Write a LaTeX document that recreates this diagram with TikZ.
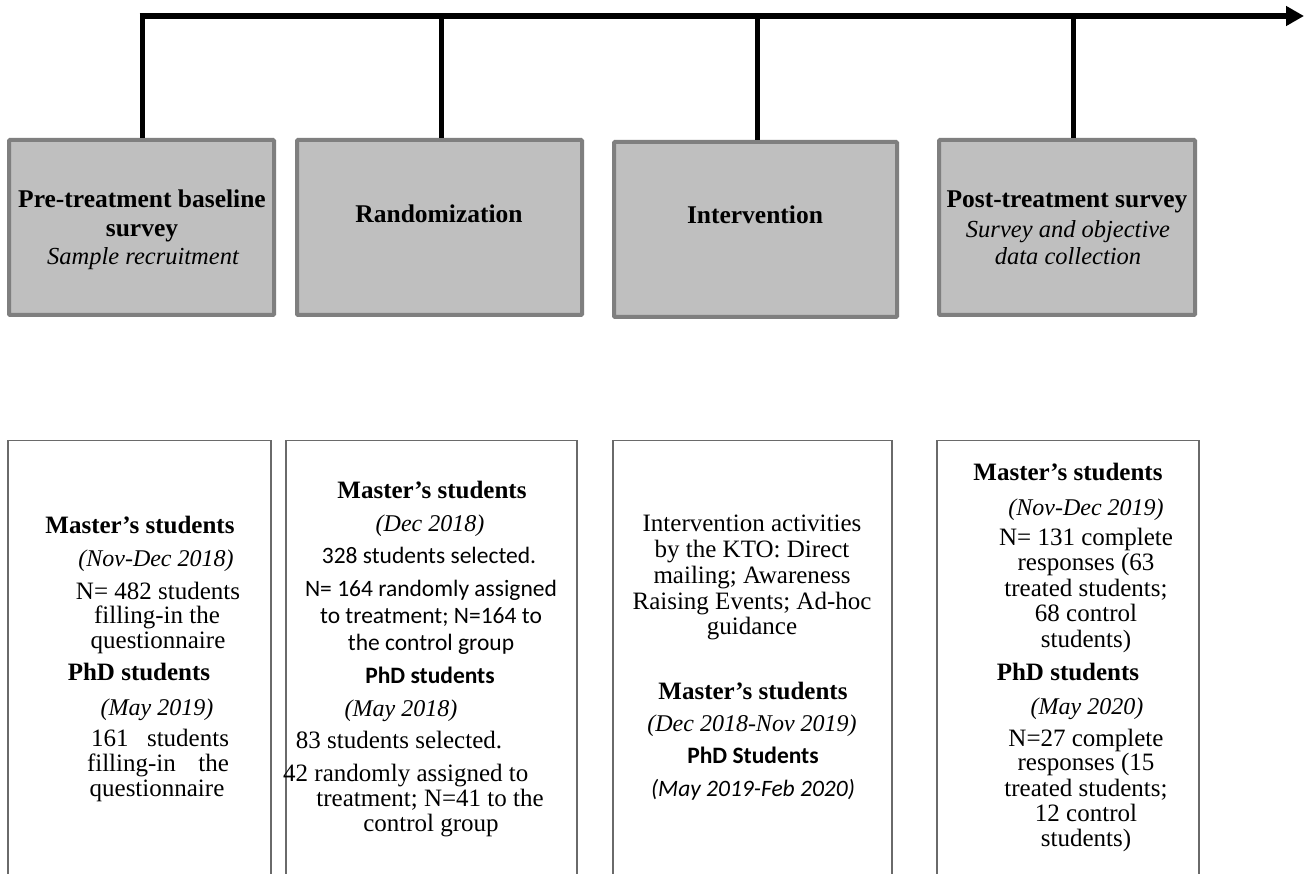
\documentclass[tikz,border=0pt]{standalone}
\usepackage{fontspec}
\setmainfont{Liberation Serif}
\newfontfamily\calibri{Carlito}
\usetikzlibrary{arrows.meta}
\definecolor{boxfill}{HTML}{BFBFBF}
\definecolor{boxline}{HTML}{7F7F7F}
\definecolor{thinline}{HTML}{6A6A6A}
\tikzset{
  topbox/.style={draw=boxline, line width=4pt, fill=boxfill, rounded corners=1pt, inner sep=0pt},
  lowbox/.style={draw=thinline, line width=1.4pt, fill=none, inner sep=0pt},
  tick/.style={line width=5pt, black},
  timeline/.style={line width=6pt, black, -{Triangle[length=18pt,width=19pt]}},
  tx/.style={anchor=base, inner sep=0pt, font=\fontsize{25}{26}\selectfont},
  txb/.style={anchor=base, inner sep=0pt, font=\fontsize{25}{26}\selectfont\bfseries},
  txi/.style={anchor=base, inner sep=0pt, font=\fontsize{24}{26}\selectfont\itshape},
  hb/.style={anchor=base, inner sep=0pt, font=\fontsize{25.5}{26}\selectfont\bfseries},
  hi/.style={anchor=base, inner sep=0pt, font=\fontsize{24.5}{26}\selectfont\itshape},
  cs/.style={anchor=base, inner sep=0pt, font=\fontsize{23.5}{26}\selectfont\calibri},
  csb/.style={anchor=base, inner sep=0pt, font=\fontsize{23.5}{26}\selectfont\calibri\bfseries},
  csi/.style={anchor=base, inner sep=0pt, font=\fontsize{23.5}{26}\selectfont\calibri\itshape},
}
\begin{document}
\begin{tikzpicture}[x=1pt,y=-1pt]
\useasboundingbox (0,0) rectangle (1307,874);
\fill[white] (0,0) rectangle (1307,874);

% top boxes
\node[topbox, minimum width=265pt, minimum height=175pt] (box1) at (141.5,227.5) {};
\node[topbox, minimum width=285pt, minimum height=175pt] (box2) at (439.5,227.5) {};
\node[topbox, minimum width=283pt, minimum height=175pt] (box3) at (755.5,229.5) {};
\node[topbox, minimum width=256pt, minimum height=175pt] (box4) at (1067,227.5) {};

% timeline
\coordinate (tl0) at (139.5,16);
\coordinate (tl1) at (1304,16);
\coordinate (t1) at (142,16);
\coordinate (t2) at (441,16);
\coordinate (t3) at (757,16);
\coordinate (t4) at (1073,16);
\draw[tick] (t1) -- (t1 |- box1.north);
\draw[tick] (t2) -- (t2 |- box2.north);
\draw[tick] (t3) -- (t3 |- box3.north);
\draw[tick] (t4) -- (t4 |- box4.north);
\draw[timeline] (tl0) -- (tl1);

% top box texts
\node[hb] (h1a) at (142,208) {Pre-treatment baseline};
\node[hb] (h1b) at (142,237) {survey};
\node[hi] (h1c) at (143,265) {Sample recruitment};
\node[hb] (h2) at (439,223) {Randomization};
\node[hb] (h3) at (755,224) {Intervention};
\node[hb] (h4a) at (1067,208) {Post-treatment survey};
\node[hi] (h4b) at (1068,238) {Survey and objective};
\node[hi] (h4c) at (1068,265) {data collection};

% bottom boxes
\node[lowbox, minimum width=263pt, minimum height=470pt, anchor=north] (low1) at (139.5,440) {};
\node[lowbox, minimum width=291pt, minimum height=470pt, anchor=north] (low2) at (431.5,440) {};
\node[lowbox, minimum width=279pt, minimum height=470pt, anchor=north] (low3) at (752.5,440) {};
\node[lowbox, minimum width=262pt, minimum height=470pt, anchor=north] (low4) at (1068,440) {};

% box 1 text
\node[txb] (a1) at (140,533) {Master’s students};
\node[txi] (a2) at (156,566) {(Nov-Dec 2018)};
\node[tx]  (a3) at (158,599) {N= 482 students};
\node[tx]  (a4) at (157,623) {filling-in the};
\node[tx]  (a5) at (158,648) {questionnaire};
\node[txb] (a6) at (139,680) {PhD students};
\node[txi] (a7) at (157,715) {(May 2019)};
\node[tx]  (a8) at (160,746) {\makebox[138pt][s]{161 \ students}};
\node[tx]  (a9) at (158,771) {\makebox[142pt][s]{filling-in the}};
\node[tx]  (a10) at (157,796) {questionnaire};

% box 2 text
\node[txb] (c1) at (432,498) {Master’s students};
\node[txi] (c2) at (430,531) {(Dec 2018)};
\node[cs]  (c3) at (429,563) {328 students selected.};
\node[cs]  (c4) at (431,596) {N= 164 randomly assigned};
\node[cs]  (c5) at (431,623) {to treatment; N=164 to};
\node[cs]  (c6) at (431,650) {the control group};
\node[csb] (c7) at (430,683) {PhD students};
\node[txi] (c8) at (401,716) {(May 2018)};
\node[tx]  (c9) at (399,748) {83 students selected.};
\node[tx, anchor=base west] (c10) at (283,781) {42 randomly assigned to};
\node[tx]  (c11) at (430,806) {treatment; N=41 to the};
\node[tx]  (c12) at (431,831) {control group};

% box 3 text
\node[tx]  (d1) at (752,531) {Intervention activities};
\node[tx]  (d2) at (752,557) {by the KTO: Direct};
\node[tx]  (d3) at (752,583) {mailing; Awareness};
\node[tx]  (d4) at (752,609) {Raising Events; Ad-hoc};
\node[tx]  (d5) at (752,634) {guidance};
\node[txb] (d6) at (753,699) {Master’s students};
\node[txi] (d7) at (752,731) {(Dec 2018-Nov 2019)};
\node[csb] (d8) at (753,763) {PhD Students};
\node[csi] (d9) at (753,796) {(May 2019-Feb 2020)};

% box 4 text
\node[txb] (e1) at (1068,481) {Master’s students};
\node[txi] (e2) at (1086,515) {(Nov-Dec 2019)};
\node[tx]  (e3) at (1086,545) {N= 131 complete};
\node[tx]  (e4) at (1086,570) {responses (63};
\node[tx]  (e5) at (1086,596) {treated students;};
\node[tx]  (e6) at (1086,621) {68 control};
\node[tx]  (e7) at (1086,647) {students)};
\node[txb] (e8) at (1068,680) {PhD students};
\node[txi] (e9) at (1087,714) {(May 2020)};
\node[tx]  (e10) at (1086,746) {N=27 complete};
\node[tx]  (e11) at (1086,770) {responses (15};
\node[tx]  (e12) at (1086,796) {treated students;};
\node[tx]  (e13) at (1086,821) {12 control};
\node[tx]  (e14) at (1086,846) {students)};
\end{tikzpicture}
\end{document}
